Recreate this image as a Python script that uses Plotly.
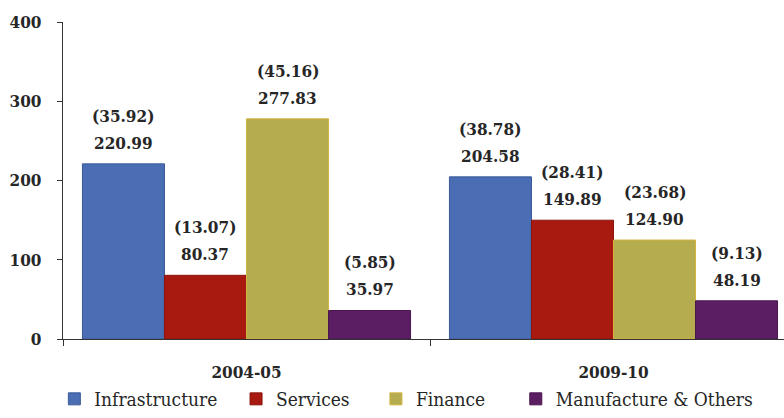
import plotly.graph_objects as go

years = ["2004-05", "2009-10"]
sectors = ["Infrastructure", "Services", "Finance", "Manufacture & Others"]
infrastructure = [220.99, 204.58]
services = [80.37, 149.89]
finance = [277.83, 124.90]
manufacture = [35.97, 48.19]
infrastructure_share = [35.92, 38.78]
services_share = [13.07, 28.41]
finance_share = [45.16, 23.68]
manufacture_share = [5.85, 9.13]
y_ticks = [0, 100, 200, 300, 400]

values = [infrastructure, services, finance, manufacture]
shares = [infrastructure_share, services_share, finance_share, manufacture_share]
colors = ["#4A6DB3", "#A8190F", "#B4AC4E", "#5B1E62"]
edges = ["#3A5A98", "#8A140B", "#D2B440", "#4A1650"]
legend_x = [-0.012, 0.24, 0.434, 0.628]   # one legend box per sector

FONT = "DejaVu Serif Condensed, DejaVu Serif"
TXT = "#262626"
BARGAP = 0.106

fig = go.Figure()
for k, (name, vals, col, edge) in enumerate(zip(sectors, values, colors, edges)):
    fig.add_trace(go.Bar(
        x=years, y=vals, name=name, showlegend=True,
        marker=dict(color=col, line=dict(color=edge, width=1)),
        legend="legend" if k == 0 else f"legend{k + 1}",
    ))

# value labels: amount just above the bar, share in parentheses above it
slot = (1 - BARGAP) / len(sectors)
for j, (vals, shr) in enumerate(zip(values, shares)):
    for i, (v, s) in enumerate(zip(vals, shr)):
        xpos = i + (j - (len(sectors) - 1) / 2) * slot
        for txt, shift in ((f"<b>{v:.2f}</b>", 9), (f"<b>({s:.2f})</b>", 36)):
            fig.add_annotation(
                x=xpos, y=v, xref="x", yref="y",
                text=txt, showarrow=False, yanchor="bottom", yshift=shift,
                font=dict(family=FONT, size=17, color=TXT),
            )

legend_style = dict(
    orientation="h", xanchor="left", y=-0.19, yanchor="middle",
    font=dict(family=FONT, size=19, color=TXT),
    itemwidth=30, bgcolor="rgba(0,0,0,0)",
)
legends = {}
for k, lx in enumerate(legend_x):
    key = "legend" if k == 0 else f"legend{k + 1}"
    legends[key] = dict(legend_style, x=lx)

fig.update_layout(
    width=784, height=418,
    margin=dict(l=63, r=0, t=22, b=79),
    plot_bgcolor="white", paper_bgcolor="white",
    barmode="group", bargap=BARGAP, bargroupgap=0,
    font=dict(family=FONT, color=TXT),
    showlegend=True,
    **legends,
)
fig.update_xaxes(
    type="category", range=[-0.5, 1.4646],
    tickson="boundaries", ticks="outside", ticklen=6, tickcolor="#333",
    showline=True, linecolor="#333", linewidth=1.3,
    tickfont=dict(family=FONT, size=17, color=TXT),
    ticklabelstandoff=17,
    ticktext=[f"<b>{y}</b>" for y in years], tickvals=years,
)
fig.update_yaxes(
    range=[0, 400], tickvals=y_ticks,
    ticktext=[f"<b>{t}</b>" for t in y_ticks],
    ticks="outside", ticklen=5, tickcolor="#333",
    showline=True, linecolor="#333", linewidth=1.3,
    showgrid=False, zeroline=False,
    tickfont=dict(family=FONT, size=17, color=TXT),
    ticklabelstandoff=12,
)

fig.write_html("out.html")
